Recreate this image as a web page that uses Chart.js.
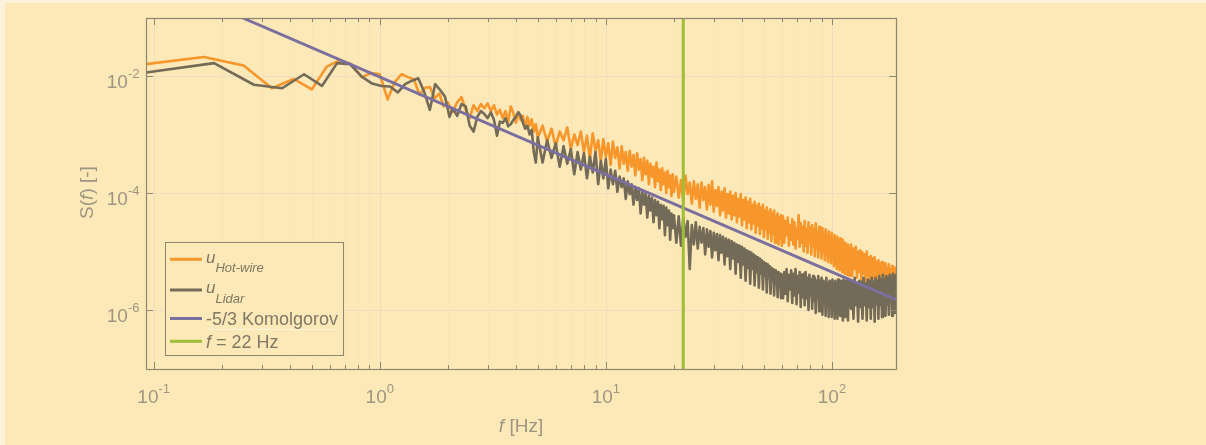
<!DOCTYPE html>
<html lang="en">
<head>
<meta charset="UTF-8">
<title>Spectrum S(f)</title>
<script src="https://cdn.jsdelivr.net/npm/chart.js"></script>
<style>
  html, body { margin: 0; padding: 0; background: #fdf2dc; }
  #wrap { position: absolute; left: 5px; top: 3px; width: 1201px; height: 442px; background: #fde8b7; }
  canvas { display: block; }
</style>
</head>
<body>
<div id="wrap"><canvas id="spec" width="1201" height="442"></canvas></div>
<script>
// hot-wire, lowest bins (Hz) and log10 S
const hotLowF = [0.0833,0.1667,0.25,0.3333,0.4167,0.5,0.5833,0.6667,0.75,0.8333,0.9167,1.0,
  1.0833,1.1667,1.25,1.3333,1.4167,1.5,1.5833,1.6667,1.75,1.8333,1.9167,2.0];
const hotLowLogS = [-1.82,-1.675,-1.82,-2.21,-2.05,-2.23,-1.84,-1.73,-1.8,-2.02,-1.95,-1.97,
  -2.4,-2.1,-1.97,-2.02,-2.06,-2.32,-2.2,-2.19,-2.38,-2.3,-2.52,-2.45];

// lidar, lowest bins
const lidarLowF = [0.0925,0.185,0.2775,0.37,0.4625,0.555,0.6475,0.74,0.8325,0.925,1.0175,
  1.11,1.2025,1.295,1.3875,1.48,1.5725,1.665,1.7575,1.85,1.9425,2.035];
const lidarLowLogS = [-1.94,-1.78,-2.15,-2.21,-1.97,-2.17,-1.78,-1.8,-2.01,-2.13,-2.17,
  -2.18,-2.28,-2.14,-2.08,-2.04,-2.27,-2.58,-2.14,-2.24,-2.35,-2.7];

// higher frequencies, shared by both traces
const highF = [
  2.1,2.2,2.3,2.4,2.5,2.6,2.7,2.8,2.9,3.0,3.1,3.2,3.3,3.4,3.5,3.6,3.7,3.8,3.9,4.0,
  4.1,4.2,4.3,4.4,4.5,4.6,4.7,4.8,4.9,5.0,
  5.25,5.5,5.75,6,6.25,6.5,6.75,7,7.25,7.5,7.75,8,8.25,8.5,8.75,9,9.25,9.5,9.75,10,
  10.25,10.5,10.75,11,11.25,11.5,11.75,12,12.25,12.5,12.75,13,13.25,13.5,13.75,14,14.25,14.5,14.75,15,
  15.25,15.5,15.75,16,16.25,16.5,16.75,17,17.25,17.5,17.75,18,18.25,18.5,18.75,19,19.25,19.5,19.75,20,
  20.5,21,21.5,22,22.5,23,23.5,24,24.5,25,
  25.5,26,26.5,27,27.5,28,28.5,29,29.5,30,
  30.5,31,31.5,32,32.5,33,33.5,34,34.5,35,
  35.5,36,36.5,37,37.5,38,38.5,39,39.5,40,
  40.5,41,41.5,42,42.5,43,43.5,44,44.5,45,
  45.5,46,46.5,47,47.5,48,48.5,49,49.5,50,
  50.5,51,51.5,52,52.5,53,53.5,54,54.5,55,
  55.5,56,56.5,57,57.5,58,58.5,59,59.5,60,
  60.75,61.5,62.25,63,63.75,64.5,65.25,66,66.75,67.5,
  68.25,69,69.75,70.5,71.25,72,72.75,73.5,74.25,75,
  75.75,76.5,77.25,78,78.75,79.5,80.25,81,81.75,82.5,
  83.25,84,84.75,85.5,86.25,87,87.75,88.5,89.25,90,
  90.75,91.5,92.25,93,93.75,94.5,95.25,96,96.75,97.5,
  98.25,99,99.75,100.5,101.25,102,102.75,103.5,104.25,105,
  105.75,106.5,107.25,108,108.75,109.5,110.25,111,111.75,112.5,
  113.25,114,114.75,115.5,116.25,117,117.75,118.5,119.25,120,
  121.5,123,124.5,126,127.5,129,130.5,132,133.5,135,
  136.5,138,139.5,141,142.5,144,145.5,147,148.5,150,
  151.5,153,154.5,156,157.5,159,160.5,162,163.5,165,
  166.5,168,169.5,171,172.5,174,175.5,177,178.5,180,
  181.5,183,184.5,186,187.5,189,190.5,192,193.5,195
];

const hotHighLogS = [
  -2.62,-2.45,-2.36,-2.58,-2.72,-2.5,-2.6,-2.48,-2.55,-2.47,-2.6,-2.5,-2.66,-2.58,-2.72,-2.6,-2.78,-2.52,-2.64,-2.8,
  -2.62,-2.75,-2.68,-2.9,-2.7,-2.85,-2.74,-2.95,-2.82,-3.05,
  -2.85,-3.12,-2.9,-3.2,-2.95,-3.1,-2.88,-3.25,-3.0,-3.18,-2.95,-3.3,-3.02,-3.42,-2.98,-3.28,-3.1,-3.45,-3.08,-3.38,
  -3.15,-3.52,-3.12,-3.4,-3.22,-3.58,-3.2,-3.5,-3.3,-3.62,-3.28,-3.55,-3.35,-3.7,-3.32,-3.6,-3.42,-3.78,-3.4,-3.68,
  -3.45,-3.85,-3.5,-3.72,-3.55,-3.9,-3.48,-3.8,-3.6,-3.95,-3.58,-3.85,-3.65,-4.0,-3.62,-3.9,-3.7,-4.05,-3.68,-3.98,
  -3.72,-4.08,-3.78,-4.15,-3.7,-4.02,-3.82,-4.18,-3.8,-4.1,
  -3.85,-4.25,-3.82,-4.12,-3.9,-4.28,-3.86,-4.2,-3.8,-4.32,
  -3.95,-4.22,-3.9,-4.38,-3.98,-4.3,-3.92,-4.42,-4.02,-4.35,
  -3.98,-4.45,-4.05,-4.38,-4.0,-4.5,-4.1,-4.4,-4.02,-4.55,
  -4.12,-4.45,-4.08,-4.6,-4.15,-4.5,-4.1,-4.62,-4.2,-4.52,
  -4.15,-4.68,-4.22,-4.55,-4.18,-4.7,-4.25,-4.6,-4.2,-4.75,
  -4.3,-4.62,-4.25,-4.78,-4.32,-4.68,-4.28,-4.82,-4.35,-4.7,
  -4.3,-4.85,-4.4,-4.72,-4.35,-4.88,-4.42,-4.78,-4.38,-4.9,
  -4.4,-4.85,-4.48,-4.72,-4.42,-4.9,-4.55,-4.8,-4.45,-4.88,
  -4.5,-4.95,-4.6,-4.78,-4.38,-4.92,-4.52,-4.85,-4.58,-5.0,
  -4.48,-4.9,-4.62,-5.02,-4.5,-4.85,-4.6,-5.05,-4.55,-4.92,
  -4.62,-5.08,-4.52,-4.95,-4.68,-5.1,-4.58,-4.98,-4.65,-5.12,
  -4.6,-5.0,-4.7,-5.15,-4.62,-5.05,-4.72,-5.18,-4.66,-5.08,
  -4.75,-5.2,-4.68,-5.1,-4.8,-5.25,-4.72,-5.12,-4.82,-5.3,
  -4.75,-5.18,-4.85,-5.32,-4.78,-5.2,-4.88,-5.35,-4.8,-5.22,
  -4.9,-5.38,-4.85,-5.25,-4.92,-5.4,-4.88,-5.28,-4.95,-5.42,
  -4.88,-5.42,-4.95,-5.3,-4.92,-5.45,-5.0,-5.35,-4.98,-5.5,
  -5.02,-5.38,-5.05,-5.52,-5.0,-5.42,-5.1,-5.55,-5.08,-5.45,
  -5.12,-5.6,-5.1,-5.48,-5.18,-5.62,-5.15,-5.5,-5.2,-5.65,
  -5.18,-5.55,-5.25,-5.68,-5.2,-5.58,-5.28,-5.72,-5.22,-5.6,
  -5.3,-5.75,-5.25,-5.62,-5.32,-5.78,-5.28,-5.65,-5.35,-5.8
];

const lidarHighLogS = [
  -2.55,-2.68,-2.48,-2.52,-2.85,-2.95,-2.7,-2.6,-2.65,-2.72,-2.62,-2.75,-3.02,-2.78,-2.8,-2.72,-2.86,-2.82,-2.75,-2.7,
  -2.62,-2.68,-2.8,-2.9,-2.85,-3.0,-2.92,-3.3,-3.48,-3.05,
  -3.48,-3.1,-3.4,-3.15,-3.55,-3.2,-3.5,-3.25,-3.68,-3.3,-3.6,-3.32,-3.75,-3.38,-3.65,-3.3,-3.85,-3.45,-3.75,-3.42,
  -3.92,-3.6,-3.85,-3.62,-3.98,-3.72,-3.9,-3.75,-4.1,-3.8,-4.02,-3.85,-4.2,-3.9,-4.12,-3.92,-4.35,-3.98,-4.2,-4.0,
  -4.42,-4.05,-4.3,-4.08,-4.5,-4.12,-4.38,-4.15,-4.6,-4.2,-4.45,-4.22,-4.72,-4.25,-4.55,-4.3,-4.8,-4.35,-4.6,-4.38,
  -4.85,-4.4,-4.9,-4.42,-4.75,-4.48,-5.3,-4.55,-4.88,-4.5,
  -4.95,-4.58,-4.85,-4.6,-5.05,-4.62,-4.92,-4.65,-5.1,-4.68,
  -4.98,-4.7,-5.15,-4.72,-5.02,-4.75,-5.22,-4.78,-5.08,-4.8,
  -5.3,-4.82,-5.12,-4.85,-5.38,-4.88,-5.18,-4.9,-5.45,-4.92,
  -5.22,-4.95,-5.5,-4.98,-5.28,-5.0,-5.55,-5.02,-5.3,-5.05,
  -5.58,-5.08,-5.35,-5.1,-5.62,-5.12,-5.38,-5.15,-5.65,-5.18,
  -5.42,-5.2,-5.7,-5.22,-5.45,-5.25,-5.72,-5.28,-5.5,-5.3,
  -5.75,-5.32,-5.52,-5.35,-5.78,-5.35,-5.55,-5.38,-5.8,-5.4,
  -5.8,-5.35,-5.72,-5.3,-5.85,-5.4,-5.65,-5.32,-5.88,-5.38,
  -5.75,-5.3,-5.9,-5.42,-5.7,-5.35,-5.95,-5.4,-5.78,-5.38,
  -5.92,-5.35,-5.8,-5.45,-6.0,-5.4,-5.75,-5.48,-5.98,-5.42,
  -5.85,-5.45,-6.05,-5.5,-5.8,-5.42,-6.02,-5.5,-5.88,-5.45,
  -6.08,-5.5,-5.85,-5.52,-6.1,-5.45,-5.9,-5.55,-6.12,-5.5,
  -5.88,-5.52,-6.12,-5.48,-5.92,-5.55,-6.15,-5.5,-5.9,-5.55,
  -6.15,-5.48,-5.95,-5.55,-6.1,-5.5,-5.92,-5.52,-6.18,-5.48,
  -5.95,-5.55,-6.12,-5.5,-5.9,-5.52,-6.18,-5.48,-5.95,-5.5,
  -5.98,-5.52,-6.15,-5.45,-5.92,-5.55,-6.2,-5.5,-5.95,-5.52,
  -6.15,-5.45,-5.92,-5.55,-6.18,-5.48,-5.95,-5.5,-6.15,-5.45,
  -5.95,-5.52,-6.2,-5.45,-5.9,-5.5,-6.15,-5.42,-5.92,-5.48,
  -6.12,-5.4,-5.88,-5.48,-6.1,-5.42,-5.9,-5.45,-6.08,-5.4,
  -5.85,-5.45,-6.1,-5.38,-5.85,-5.42,-6.05,-5.38,-5.88,-5.45
];

// -5/3 reference line end points and the 22 Hz marker
const kolmoF = [0.245, 195];
const kolmoS = [0.1, 1.46e-6];
const markerF = 22;

// axes
const xMin = 0.0925, xMax = 192;
const yMin = 9.8e-8, yMax = 0.098;
const xDecades = [0.1, 1, 10, 100];
const xDecadeExp = ['-1', '0', '1', '2'];
const yGridValues = [1e-2, 1e-4, 1e-6];
const yGridExp = ['-2', '-4', '-6'];

const orange = '#f7962a';
const dark = '#736b57';
const purple = '#7a6f9e';
const green = '#9fbe37';
const bg = '#fde8b7';
const frameColor = '#8e8770';
const gridMajor = '#eddcbf';
const gridMinor = '#e6d6bb';
const axisText = '#9e9683';
const legendText = '#7f7864';
const FONT = "'Liberation Sans', Arial, sans-serif";

function toPoints(fs, logs) {
  return fs.map((f, i) => ({ x: f, y: Math.pow(10, logs[i]) }));
}

const hotPoints = toPoints(hotLowF.concat(highF), hotLowLogS.concat(hotHighLogS));
const lidarPoints = toPoints(lidarLowF.concat(highF), lidarLowLogS.concat(lidarHighLogS));
const kolmoPoints = kolmoF.map((f, i) => ({ x: f, y: kolmoS[i] }));
const markerPoints = [{ x: markerF, y: 1e-8 }, { x: markerF, y: 1 }];

// minor x positions: 2..9 times each decade
const xGridValues = [];
xDecades.forEach(d => {
  for (let m = 1; m <= 9; m++) {
    const v = d * m;
    if (v >= xMin && v <= xMax) xGridValues.push(v);
  }
});

// draw text runs (different fonts / raised parts) side by side
function drawRuns(ctx, runs, x, y, align) {
  let total = 0;
  runs.forEach(r => { ctx.font = r[1]; total += ctx.measureText(r[0]).width; });
  let cx = align === 'center' ? x - total / 2 : (align === 'right' ? x - total : x);
  runs.forEach(r => {
    ctx.font = r[1];
    ctx.fillText(r[0], cx, y + (r[2] || 0));
    cx += ctx.measureText(r[0]).width;
  });
}

const framePlugin = {
  id: 'frame',
  beforeDatasetsDraw(chart) {
    const { ctx, chartArea: a, scales: { x, y } } = chart;
    ctx.save();
    ctx.lineWidth = 1;
    xGridValues.forEach(v => {
      const px = Math.round(x.getPixelForValue(v)) + 0.5;
      const major = xDecades.includes(v);
      ctx.strokeStyle = major ? gridMajor : gridMinor;
      ctx.setLineDash(major ? [] : [1, 3]);
      ctx.beginPath(); ctx.moveTo(px, a.top); ctx.lineTo(px, a.bottom); ctx.stroke();
    });
    ctx.setLineDash([]);
    ctx.strokeStyle = gridMajor;
    yGridValues.forEach(v => {
      const py = Math.round(y.getPixelForValue(v)) + 0.5;
      ctx.beginPath(); ctx.moveTo(a.left, py); ctx.lineTo(a.right, py); ctx.stroke();
    });
    ctx.restore();
  },
  afterDraw(chart) {
    const { ctx, chartArea: a, scales: { x, y } } = chart;
    ctx.save();
    // frame
    ctx.strokeStyle = frameColor;
    ctx.lineWidth = 1.2;
    ctx.strokeRect(a.left + 0.5, a.top + 0.5, a.right - a.left, a.bottom - a.top);
    // tick marks, inward on all sides
    ctx.lineWidth = 1;
    ctx.beginPath();
    xGridValues.forEach(v => {
      const px = Math.round(x.getPixelForValue(v)) + 0.5;
      const len = xDecades.includes(v) ? 7 : 4;
      ctx.moveTo(px, a.bottom); ctx.lineTo(px, a.bottom - len);
      ctx.moveTo(px, a.top); ctx.lineTo(px, a.top + len);
    });
    yGridValues.forEach(v => {
      const py = Math.round(y.getPixelForValue(v)) + 0.5;
      ctx.moveTo(a.left, py); ctx.lineTo(a.left + 7, py);
      ctx.moveTo(a.right, py); ctx.lineTo(a.right - 7, py);
    });
    ctx.stroke();

    // tick labels
    ctx.fillStyle = axisText;
    ctx.textAlign = 'left';
    ctx.textBaseline = 'alphabetic';
    const big = '19px ' + FONT, small = '13px ' + FONT;
    xDecades.forEach((v, i) => {
      drawRuns(ctx, [['10', big], [xDecadeExp[i], small, -10]], x.getPixelForValue(v), 400, 'center');
    });
    yGridValues.forEach((v, i) => {
      const py = y.getPixelForValue(v);
      drawRuns(ctx, [['10', big], [yGridExp[i], small, -10]], 134.5, py + 12.3, 'right');
    });

    // axis titles
    const ital = 'italic 19px ' + FONT;
    drawRuns(ctx, [['f', ital], [' [Hz]', big]], (a.left + a.right) / 2, 429, 'center');
    ctx.save();
    ctx.translate(88, 189.5);
    ctx.rotate(-Math.PI / 2);
    drawRuns(ctx, [['S(', big], ['f', ital], [') [-]', big]], 0, 0, 'center');
    ctx.restore();

    // legend
    const bx = 160.5, by = 239.5, bw = 178, bh = 113;
    ctx.fillStyle = bg;
    ctx.fillRect(bx, by, bw, bh);
    ctx.strokeStyle = frameColor;
    ctx.lineWidth = 1;
    ctx.strokeRect(bx, by, bw, bh);
    const lines = [[orange, 256.3], [dark, 287], [purple, 315.5], [green, 338.3]];
    ctx.lineWidth = 3;
    lines.forEach(l => {
      ctx.strokeStyle = l[0];
      ctx.beginPath(); ctx.moveTo(165, l[1]); ctx.lineTo(197, l[1]); ctx.stroke();
    });
    ctx.fillStyle = legendText;
    const lu = 'italic 17px ' + FONT, lsub = 'italic 13px ' + FONT, lreg = '18px ' + FONT, lit = 'italic 18px ' + FONT;
    drawRuns(ctx, [['u', lu], ['Hot-wire', lsub, 8.2]], 201, 260.3, 'left');
    drawRuns(ctx, [['u', lu], ['Lidar', lsub, 9.8]], 201, 289.7, 'left');
    drawRuns(ctx, [['-5/3 Komolgorov', lreg]], 201, 322, 'left');
    drawRuns(ctx, [['f', lit], [' = 22 Hz', lreg]], 201, 345.3, 'left');
    ctx.strokeStyle = '#fff3dc';
    ctx.lineWidth = 1;
    ctx.beginPath(); ctx.moveTo(201, 326.5); ctx.lineTo(332, 326.5); ctx.stroke();
    ctx.restore();
  }
};

new Chart(document.getElementById('spec'), {
  type: 'line',
  data: {
    datasets: [
      { label: 'u Hot-wire', data: hotPoints, borderColor: orange, borderWidth: 2.6, order: 4 },
      { label: 'u Lidar', data: lidarPoints, borderColor: dark, borderWidth: 2.6, order: 3 },
      { label: '-5/3 Komolgorov', data: kolmoPoints, borderColor: purple, borderWidth: 3, order: 2 },
      { label: 'f = 22 Hz', data: markerPoints, borderColor: green, borderWidth: 3, order: 1 }
    ]
  },
  options: {
    responsive: false,
    animation: false,
    events: [],
    layout: { padding: { left: 141, top: 15, right: 310, bottom: 76 } },
    elements: {
      point: { radius: 0 },
      line: { tension: 0, fill: false, borderJoinStyle: 'round' }
    },
    plugins: { legend: { display: false }, tooltip: { enabled: false } },
    scales: {
      x: {
        type: 'logarithmic', min: xMin, max: xMax,
        ticks: { display: false }, grid: { display: false }, border: { display: false },
        afterFit: s => { s.height = 0; }
      },
      y: {
        type: 'logarithmic', min: yMin, max: yMax,
        ticks: { display: false }, grid: { display: false }, border: { display: false },
        afterFit: s => { s.width = 0; }
      }
    }
  },
  plugins: [framePlugin]
});
</script>
</body>
</html>
